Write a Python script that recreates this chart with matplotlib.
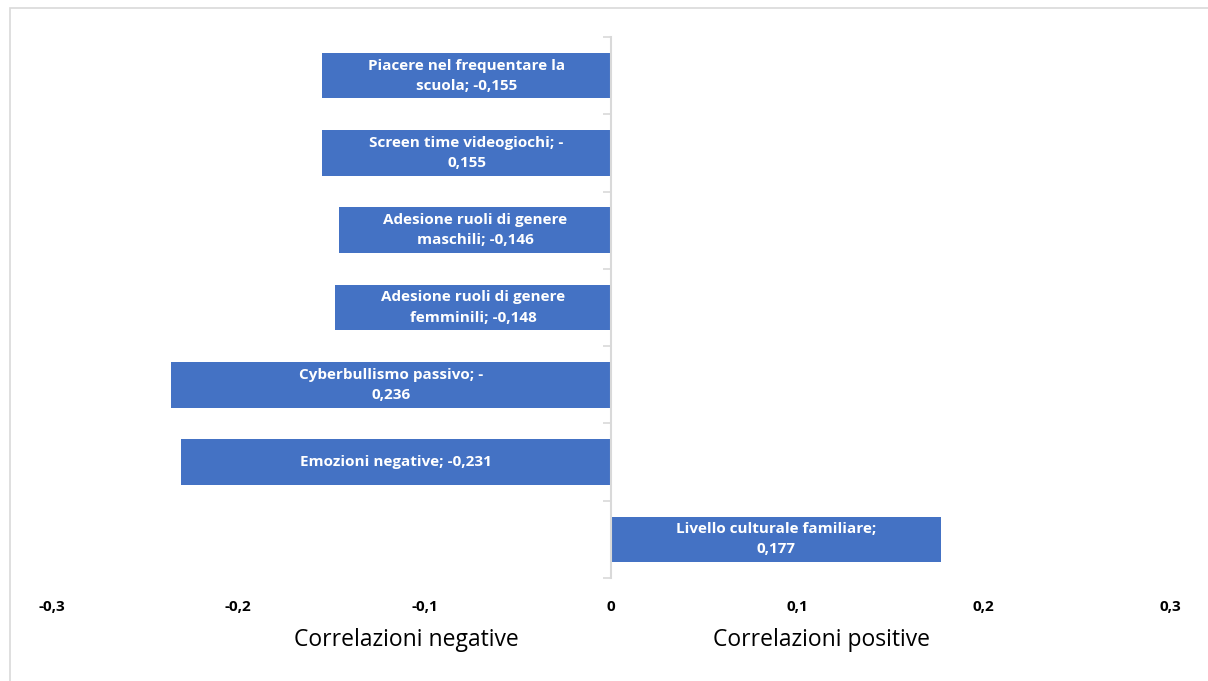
import matplotlib.pyplot as plt
from matplotlib.patches import Rectangle
import numpy as np

# Correlations with the outcome, top to bottom
names = ['Piacere nel frequentare la scuola',
         'Screen time videogiochi',
         'Adesione ruoli di genere maschili',
         'Adesione ruoli di genere femminili',
         'Cyberbullismo passivo',
         'Emozioni negative',
         'Livello culturale familiare']
values = [-0.155, -0.155, -0.146, -0.148, -0.236, -0.231, 0.177]
# characters kept on the first line of each bar label (None = one line)
first_line = [26, 26, 24, 24, 24, None, 28]
xticks = [-0.3, -0.2, -0.1, 0, 0.1, 0.2, 0.3]

bar_color = '#4472C4'
grid_grey = '#D9D9D9'
plt.rcParams['font.family'] = ['Open Sans', 'DejaVu Sans']

def fmt(v):
    s = ('%g' % v).replace('.', ',')
    return s

def label(name, v, n):
    txt = name + '; ' + fmt(v)
    if n is None:
        return txt
    return txt[:n].rstrip() + '\n' + txt[n:].lstrip()

fig = plt.figure(figsize=(12.08, 6.81), dpi=100)
W, H = 1208, 681
ax = fig.add_axes([52 / W, 1 - 578 / H, (1170 - 52) / W, (578 - 37) / H])

y = np.arange(len(names))
ax.barh(y, values, height=0.59, color=bar_color, zorder=2)
for yi, v, nm, n in zip(y, values, names, first_line):
    ax.text(v / 2, yi, label(nm, v, n), ha='center', va='center',
            color='white', fontsize=11, fontweight='bold',
            linespacing=1.55, zorder=3)

ax.set_xlim(-0.3, 0.3)
ax.set_ylim(len(names) - 0.5, -0.5)
ax.set_xticks(xticks)
ax.set_xticklabels([fmt(t) if t != 0 else '0' for t in xticks],
                   fontsize=11, fontweight='bold')
ax.tick_params(axis='x', length=0, pad=16)

# category axis sits on zero, ticks between categories
for s in ['top', 'right', 'bottom']:
    ax.spines[s].set_visible(False)
ax.spines['left'].set_position(('data', 0))
ax.spines['left'].set_color(grid_grey)
ax.spines['left'].set_linewidth(1.5)
ax.set_yticks(np.arange(len(names) + 1) - 0.5)
ax.set_yticklabels([])
ax.tick_params(axis='y', length=6, width=1.2, color=grid_grey, direction='out')

ax.text(-0.11, -0.115, 'Correlazioni negative', transform=ax.get_xaxis_transform(),
        ha='center', va='center', fontsize=16.5)
ax.text(0.113, -0.115, 'Correlazioni positive', transform=ax.get_xaxis_transform(),
        ha='center', va='center', fontsize=16.5)

# chart area border
fig.patches.append(Rectangle((10 / W, -0.1), 1.2, 1 - 8 / H + 0.1,
                             transform=fig.transFigure, fill=False,
                             edgecolor=grid_grey, linewidth=1.2))

fig.savefig('out.png', dpi=100)
